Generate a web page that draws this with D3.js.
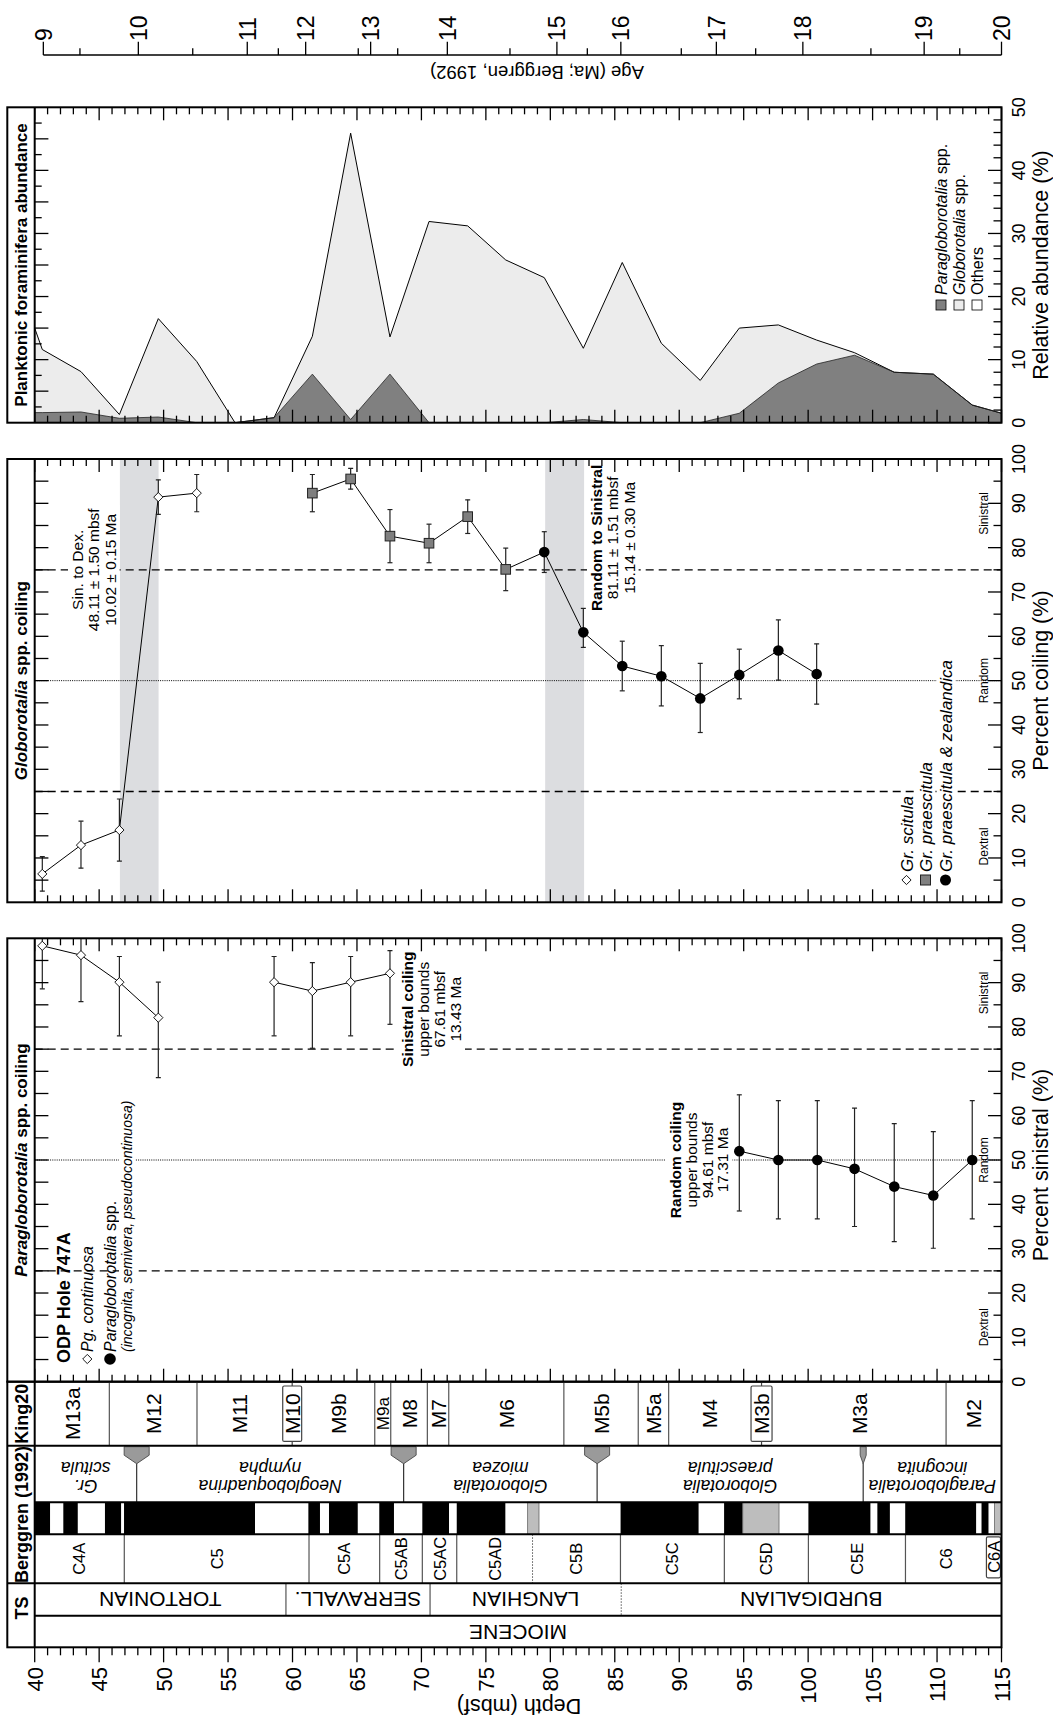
<!DOCTYPE html>
<html><head><meta charset="utf-8">
<script src="https://cdn.jsdelivr.net/npm/d3@7/dist/d3.min.js"></script>
<style>
body{margin:0;background:#fff}
text{font-family:"Liberation Sans",Arial,Helvetica,sans-serif;fill:#000}
</style></head>
<body><svg id="c" width="1053" height="1725"></svg>
<script>
// ================= DATA =================
const ageTicks = [9,9.5,10,10.5,11,11.5,12,12.5,13,13.5,14,14.5,15,15.5,16,16.5,17,17.5,18,18.5,19,19.5,20];
const ageTickDepths = [40.67,43.51,48.04,52.26,56.49,58.90,61.02,65.10,66.06,68.16,72.01,76.87,80.51,82.87,85.47,90.16,92.88,95.93,99.59,104.87,109.00,111.76,115.0];

// Planktonic foraminifera abundance (%)
const abDepth = [40.0,40.59,43.59,46.57,49.59,52.57,55.54,58.57,61.54,64.51,67.56,70.59,73.59,76.54,79.53,82.56,85.58,88.61,91.63,94.66,97.69,100.66,103.6,106.68,109.71,112.73,115.0];
const abPara  = [1.6,1.6,1.7,0.7,0.9,0,0,0.8,7.7,0.5,7.7,0,0,0,0,0.5,0,0,0,1.5,6.3,9.3,10.7,8.0,7.7,2.8,1.5];
const abGlob  = [13.4,10.0,6.4,0.6,15.6,9.7,0,0,6.0,45.4,5.9,31.9,31.2,25.8,23.0,11.3,25.4,12.6,6.7,13.5,9.2,3.8,0.4,0,0,0,0];

// Globorotalia coiling (% sinistral)
const scitulaDepth = [40.59,43.59,46.57,49.59,52.57];
const scitulaPct   = [6.4,12.9,16.3,91.4,92.3];
const scitulaLo    = [2.5,7.7,9.3,87.5,88.1];
const scitulaHi    = [10.3,18.3,23.3,95.3,96.5];
const praesDepth = [61.54,64.51,67.56,70.59,73.59,76.54];
const praesPct   = [92.3,95.5,82.6,81.0,87.0,75.1];
const praesLo    = [88.1,93.2,76.6,76.6,83.2,70.3];
const praesHi    = [96.5,97.9,88.6,85.3,90.8,79.9];
const zealDepth = [79.53,82.56,85.58,88.61,91.63,94.66,97.69,100.66];
const zealPct   = [79.0,60.9,53.3,51.0,46.0,51.3,56.8,51.5];
const zealLo    = [74.4,57.5,47.7,44.3,38.3,45.9,50.1,44.7];
const zealHi    = [83.6,66.3,58.9,57.9,53.9,57.1,63.7,58.3];
const bandMid  = [48.11,81.11];
const bandHalf = [1.50,1.51];

// Paragloborotalia coiling (% sinistral)
const pgContDepth = [40.59,43.59,46.57,49.59,58.57,61.54,64.51,67.56];
const pgContPct   = [98.3,96.2,90.1,82.1,90.1,88.1,90.1,92.1];
const pgContLo    = [88.6,85.7,78.0,68.6,78.0,75.2,78.0,80.6];
const pgContHi    = [100,100,95.9,90.1,95.9,94.5,95.9,97.2];
const pgContRun   = [1,1,1,1,2,2,2,2];
const pgSppDepth = [94.66,97.69,100.71,103.6,106.68,109.71,112.73];
const pgSppPct   = [52.0,50.0,50.0,48.0,44.0,42.0,50.0];
const pgSppLo    = [38.5,36.7,36.7,35.0,31.6,30.1,36.7];
const pgSppHi    = [64.7,63.4,63.4,61.7,58.2,56.4,63.4];

// Stratigraphy
const kingNames = ["M13a","M12","M11","M10","M9b","M9a","M8","M7","M6","M5b","M5a","M4","M3b","M3a","M2"];
const kingTops  = [40,45.79,52.59,59.24,60.71,66.38,67.62,70.46,72.12,81.05,86.82,89.18,95.57,97.20,110.70];
const kingBoxed = [0,0,0,1,0,0,0,0,0,0,0,0,1,0,0];
const zoneGenus   = ["Gr.","Neogloboquadrina","Globorotalia","Globorotalia","Paragloborotalia"];
const zoneSpecies = ["scitula","nympha","miozea","praescitula","incognita"];
const zoneTops    = [40,47.91,68.62,83.63,104.27];
const magNormalTop  = [40.0,42.22,45.45,46.93,61.23,62.83,66.73,70.07,72.74,85.45,93.48,100.02,105.37,107.53,113.45];
const magNormalBase = [41.19,43.34,46.70,57.09,62.13,65.06,67.87,72.14,76.51,91.50,94.93,104.83,106.34,113.03,113.99];
const magUncertTop  = [78.24,94.93,114.46];
const magUncertBase = [79.12,97.74,115.0];
const chronNames = ["C4A","C5","C5A","C5AB","C5AC","C5AD","C5B","C5C","C5D","C5E","C6","C6A"];
const chronTops  = [40,46.95,61.28,66.76,70.07,72.74,78.62,85.44,93.50,100.02,107.55,113.83];
const chronDotted= [0,0,0,0,0,0,1,0,0,0,0,0];
const chronBoxed = [0,0,0,0,0,0,0,0,0,0,0,1];
const stageNames = ["TORTONIAN","SERRAVALL.","LANGHIAN","BURDIGALIAN"];
const stageTops  = [40,59.49,70.67,85.50];
const stageDotted= [0,0,0,1];
const epochNames = ["MIOCENE"];
const epochTops  = [40];

// ================= LAYOUT =================
const svg = d3.select("#c");
const XL = 7.3, X0 = 34.7, X1 = 1001.5, DMAX = 115;
const x = d3.scaleLinear().domain([40,115]).range([X0,X1]);
const ageToDepth = d3.scaleLinear().domain(ageTicks).range(ageTickDepths);
const P3 = {top:107.3, bottom:422.7}, P2 = {top:459, bottom:902.3}, P1 = {top:938.3, bottom:1381.7};
const yAb = d3.scaleLinear().domain([0,50]).range([P3.bottom,P3.top]);
const yGl = d3.scaleLinear().domain([0,100]).range([P2.bottom,P2.top]);
const yPg = d3.scaleLinear().domain([0,100]).range([P1.bottom,P1.top]);

svg.append("rect").attr("width",1053).attr("height",1725).attr("fill","#fff");

function rtext(parent, tx, ty, angle, parts, o={}) {
  const t = parent.append("text")
    .attr("transform",`translate(${tx},${ty}) rotate(${angle})`)
    .attr("text-anchor", o.anchor || "middle")
    .style("font-size",(o.size||16)+"px");
  if (o.weight) t.style("font-weight",o.weight);
  if (o.italic) t.style("font-style","italic");
  if (typeof parts === "string") t.text(parts);
  else parts.forEach(p => t.append("tspan").text(p[0]).style("font-style", p[1] ? "italic" : "normal"));
  return t;
}
function block(parent, tx, ty, lines, o) {
  const g = parent.append("g").attr("transform",`translate(${tx},${ty}) rotate(-90)`);
  lines.forEach((l,i) => {
    const t = g.append("text").attr("y", i*o.lh).attr("text-anchor","middle").style("font-size",o.size+"px").text(l);
    if (i===0 && o.firstBold) t.style("font-weight","bold");
  });
  if (o.bg) {
    const b = g.node().getBBox();
    g.insert("rect","text").attr("x",b.x-3).attr("y",b.y-1).attr("width",b.width+6).attr("height",b.height+2).attr("fill","#fff");
  }
  return g;
}
function hline(g, y, x0, x1, w=2, col="#000") {
  return g.append("line").attr("x1",x0).attr("x2",x1).attr("y1",y).attr("y2",y).attr("stroke",col).attr("stroke-width",w);
}
function vline(g, xx, y0, y1, w=1, col="#000", dash=null) {
  const l = g.append("line").attr("x1",xx).attr("x2",xx).attr("y1",y0).attr("y2",y1).attr("stroke",col).attr("stroke-width",w);
  if (dash) l.attr("stroke-dasharray",dash);
  return l;
}

function frame(P, yS, opt) {
  const g = svg.append("g");
  d3.range(40,116,1).forEach(d => {
    const L = d % 5 === 0 ? 13 : 7;
    vline(g, x(d), P.top, P.top+L, 1.3);
    vline(g, x(d), P.bottom, P.bottom-L, 1.3);
  });
  d3.range(0, opt.max+0.001, opt.leftStep).forEach(v => {
    if (v===0 || v===opt.max) return;
    const L = opt.leftMajor ? (Math.abs(v/opt.leftMajor - Math.round(v/opt.leftMajor))<1e-6 ? 13.7 : 7) : 13.7;
    hline(g, yS(v), X0, X0+L, 1.3);
  });
  d3.range(0, opt.max+0.001, opt.rightStep).forEach(v => {
    const L = v % 10 === 0 ? 13.5 : 8;
    hline(g, yS(v), X1, X1-L, 1.3);
  });
  d3.range(0, opt.max+0.001, 10).forEach(v => {
    rtext(g, 1025, yS(v), -90, String(v), {size:18});
  });
  g.append("rect").attr("x",XL).attr("y",P.top).attr("width",X1-XL).attr("height",P.bottom-P.top)
    .attr("fill","none").attr("stroke","#000").attr("stroke-width",2);
  vline(g, X0, P.top, P.bottom, 2);
  rtext(g, 27, (P.top+P.bottom)/2, -90, opt.title, {size:17, weight:"bold"});
  rtext(g, 1048, opt.axisY, -90, opt.axis, {size:21.5});
  return g;
}

function clip(id, P) {
  svg.append("clipPath").attr("id",id).append("rect").attr("x",X0).attr("y",P.top).attr("width",X1-X0).attr("height",P.bottom-P.top);
}
clip("c3",P3); clip("c2",P2); clip("c1",P1);

const diamond = "M0,-4.6L4.6,0L0,4.6L-4.6,0Z";

function refLines(g, yS) {
  g.selectAll("line.ref").data([25,75]).enter().append("line").attr("class","ref")
   .attr("x1",X0).attr("x2",X1).attr("y1",d=>yS(d)).attr("y2",d=>yS(d))
   .attr("stroke","#000").attr("stroke-width",1.4).attr("stroke-dasharray","8,5");
  g.append("line").attr("x1",X0).attr("x2",X1).attr("y1",yS(50)).attr("y2",yS(50))
   .attr("stroke","#000").attr("stroke-width",1).attr("stroke-dasharray","1,1.2");
}
function errBars(g, depths, lo, hi, yS) {
  depths.forEach((d,i) => {
    const xx = x(d), a = yS(Math.min(hi[i],100)), b = yS(Math.max(lo[i],0));
    vline(g, xx, a, b, 1.2, "#222");
    hline(g, a, xx-2.5, xx+2.5, 1.2, "#222");
    hline(g, b, xx-2.5, xx+2.5, 1.2, "#222");
  });
}
function pathLine(g, depths, vals, yS) {
  g.append("path").attr("d", d3.line().x(d=>x(d[0])).y(d=>yS(d[1]))(depths.map((d,i)=>[d,vals[i]])))
   .attr("fill","none").attr("stroke","#000").attr("stroke-width",1);
}

// ================= TOP AGE AXIS =================
{
  const g = svg.append("g");
  const a0 = x(ageToDepth(9)), a1 = x(ageToDepth(20));
  hline(g, 55, a0, a1, 1.3);
  ageTicks.forEach(a => {
    const xx = x(ageToDepth(a));
    const major = Number.isInteger(a);
    vline(g, xx, 55, major ? 41.7 : 48.3, 1.3);
    if (major) rtext(g, xx+8.3, 41, -90, String(a), {size:23, anchor:"start"});
  });
  rtext(g, 537, 66, 180, "Age (Ma; Berggren, 1992)", {size:18.5});
}

// ================= PANEL 3: abundance =================
{
  const g = svg.append("g").attr("clip-path","url(#c3)");
  const rows = abDepth.map((d,i)=>({d, para:abPara[i], glob:abGlob[i]}));
  const stack = d3.stack().keys(["para","glob"])(rows);
  const area = d3.area().x(p=>x(p.data.d)).y0(p=>yAb(p[0])).y1(p=>yAb(p[1]));
  const top = d3.line().x(p=>x(p.data.d)).y(p=>yAb(p[1]));
  g.append("path").attr("d",area(stack[1])).attr("fill","#ececec");
  g.append("path").attr("d",area(stack[0])).attr("fill","#808080");
  g.append("path").attr("d",top(stack[1])).attr("fill","none").attr("stroke","#000").attr("stroke-width",1);
  g.append("path").attr("d",top(stack[0])).attr("fill","none").attr("stroke","#222").attr("stroke-width",0.8);
  frame(P3, yAb, {max:50, leftStep:2.5, leftMajor:5, rightStep:2, title:"Planktonic foraminifera abundance",
    axis:"Relative abundance (%)", axisY:(P3.top+P3.bottom)/2});
  const lg = svg.append("g");
  const items = [[["Paragloborotalia",1],[" spp.",0]],[["Globorotalia",1],[" spp.",0]],[["Others",0]]];
  const fills = ["#808080","#ececec","#fff"];
  items.forEach((it,i) => {
    const bx = 947 + i*18;
    lg.append("rect").attr("x",bx-11).attr("y",300).attr("width",10).attr("height",10)
      .attr("fill",fills[i]).attr("stroke","#000").attr("stroke-width",0.8);
    rtext(lg, bx, 295, -90, it, {size:16, anchor:"start"});
  });
}

// ================= PANEL 2: Globorotalia coiling =================
{
  const g = svg.append("g");
  const gc = g.append("g").attr("clip-path","url(#c2)");
  bandMid.forEach((m,i) => gc.append("rect").attr("x",x(m-bandHalf[i])).attr("width",x(m+bandHalf[i])-x(m-bandHalf[i]))
     .attr("y",P2.top).attr("height",P2.bottom-P2.top).attr("fill","#dcdde0"));
  refLines(gc, yGl);
  block(g, 83, yGl(75), ["Sin. to Dex.","48.11 ± 1.50 mbsf","10.02 ± 0.15 Ma"], {size:15.5, lh:16.3, bg:true});
  block(g, 602, yGl(82.2), ["Random to Sinistral","81.11 ± 1.51 mbsf","15.14 ± 0.30 Ma"], {size:15.5, lh:16.3, firstBold:true, bg:true});
  rtext(g, 987.5, yGl(87.7), -90, "Sinistral", {size:12});
  rtext(g, 987.5, yGl(50), -90, "Random", {size:12});
  rtext(g, 987.5, yGl(12.6), -90, "Dextral", {size:12});
  const leg = [[["Gr. scitula",1]],[["Gr. praescitula",1]],[["Gr. praescitula & zealandica",1]]];
  leg.forEach((it,i) => {
    const bx = [912.5,931.5,951.5][i];
    const t = rtext(g, bx, 872, -90, it, {size:17, anchor:"start"});
    const b = t.node().getBBox();
    g.insert("rect", () => t.node()).attr("transform",`translate(${bx},872) rotate(-90)`)
      .attr("x",b.x-2).attr("y",b.y).attr("width",b.width+4).attr("height",b.height).attr("fill","#fff");
  });
  g.append("path").attr("d",diamond).attr("transform","translate(906.5,880)").attr("fill","#fff").attr("stroke","#000").attr("stroke-width",0.9);
  g.append("rect").attr("x",925.5-5).attr("y",875).attr("width",10).attr("height",10).attr("fill","#808080").attr("stroke","#222");
  g.append("circle").attr("cx",945.5).attr("cy",880).attr("r",5.5).attr("fill","#000");
  const gd = g.append("g").attr("clip-path","url(#c2)");
  pathLine(gd, scitulaDepth, scitulaPct, yGl);
  pathLine(gd, praesDepth.concat(zealDepth), praesPct.concat(zealPct), yGl);
  errBars(gd, scitulaDepth, scitulaLo, scitulaHi, yGl);
  errBars(gd, praesDepth, praesLo, praesHi, yGl);
  errBars(gd, zealDepth, zealLo, zealHi, yGl);
  scitulaDepth.forEach((d,i)=>gd.append("path").attr("d",diamond).attr("transform",`translate(${x(d)},${yGl(scitulaPct[i])})`)
     .attr("fill","#fff").attr("stroke","#000").attr("stroke-width",0.9));
  praesDepth.forEach((d,i)=>gd.append("rect").attr("x",x(d)-4.8).attr("y",yGl(praesPct[i])-4.8).attr("width",9.6).attr("height",9.6)
     .attr("fill","#7f7f7f").attr("stroke","#222").attr("stroke-width",1));
  zealDepth.forEach((d,i)=>gd.append("circle").attr("cx",x(d)).attr("cy",yGl(zealPct[i])).attr("r",5.3).attr("fill","#000"));
  frame(P2, yGl, {max:100, leftStep:5, rightStep:5,
    title:[["Globorotalia",1],[" spp. coiling",0]], axis:"Percent coiling (%)", axisY:(P2.top+P2.bottom)/2});
}

// ================= PANEL 1: Paragloborotalia coiling =================
{
  const g = svg.append("g");
  const gc = g.append("g").attr("clip-path","url(#c1)");
  refLines(gc, yPg);
  block(g, 413, yPg(84), ["Sinistral coiling","upper bounds","67.61 mbsf","13.43 Ma"], {size:15.5, lh:16, firstBold:true, bg:true});
  block(g, 681, yPg(50), ["Random coiling","upper bounds","94.61 mbsf","17.31 Ma"], {size:15.5, lh:15.8, firstBold:true, bg:true});
  rtext(g, 987.5, yPg(87.7), -90, "Sinistral", {size:12});
  rtext(g, 987.5, yPg(50), -90, "Random", {size:12});
  rtext(g, 987.5, yPg(12.3), -90, "Dextral", {size:12});
  rtext(g, 70, 1363, -90, "ODP Hole 747A", {size:18, weight:"bold", anchor:"start"});
  g.append("path").attr("d",diamond).attr("transform","translate(87.3,1359)").attr("fill","#fff").attr("stroke","#000").attr("stroke-width",0.9);
  rtext(g, 93, 1352, -90, [["Pg. continuosa",1]], {size:16, anchor:"start"});
  g.append("circle").attr("cx",110).attr("cy",1359).attr("r",5.8).attr("fill","#000");
  rtext(g, 116, 1352, -90, [["Paragloborotalia",1],[" spp.",0]], {size:16, anchor:"start"});
  const st = rtext(g, 132, 1352, -90, [["(incognita, semivera, pseudocontinuosa)",1]], {size:14, anchor:"start"});
  const sb = st.node().getBBox();
  g.insert("rect", () => st.node()).attr("transform","translate(132,1352) rotate(-90)")
    .attr("x",sb.x-2).attr("y",sb.y).attr("width",sb.width+4).attr("height",sb.height).attr("fill","#fff");
  const gd = g.append("g").attr("clip-path","url(#c1)");
  d3.groups(pgContDepth.map((d,i)=>({d,v:pgContPct[i],r:pgContRun[i]})), p=>p.r).forEach(([,pts]) =>
    pathLine(gd, pts.map(p=>p.d), pts.map(p=>p.v), yPg));
  pathLine(gd, pgSppDepth, pgSppPct, yPg);
  errBars(gd, pgContDepth, pgContLo, pgContHi, yPg);
  errBars(gd, pgSppDepth, pgSppLo, pgSppHi, yPg);
  pgContDepth.forEach((d,i)=>gd.append("path").attr("d",diamond).attr("transform",`translate(${x(d)},${yPg(pgContPct[i])})`)
     .attr("fill","#fff").attr("stroke","#000").attr("stroke-width",0.9));
  pgSppDepth.forEach((d,i)=>gd.append("circle").attr("cx",x(d)).attr("cy",yPg(pgSppPct[i])).attr("r",5.3).attr("fill","#000"));
  frame(P1, yPg, {max:100, leftStep:5, rightStep:5,
    title:[["Paragloborotalia",1],[" spp. coiling",0]], axis:"Percent sinistral (%)", axisY:1165});
}

// ================= STRATIGRAPHY =================
{
  const g = svg.append("g");
  const R = {k:[1381.7,1445.7], b:[1445.7,1502.3], m:[1502.3,1534.3], c:[1534.3,1583.3], s:[1583.3,1615.7], e:[1615.7,1647.3]};
  const next = (arr,i) => i+1 < arr.length ? arr[i+1] : DMAX;
  const mid = r => (r[0]+r[1])/2;
  magNormalTop.forEach((t,i)=>g.append("rect").attr("x",x(t)).attr("width",x(magNormalBase[i])-x(t)).attr("y",R.m[0]).attr("height",R.m[1]-R.m[0]).attr("fill","#000"));
  magUncertTop.forEach((t,i)=>g.append("rect").attr("x",x(t)).attr("width",x(magUncertBase[i])-x(t)).attr("y",R.m[0]).attr("height",R.m[1]-R.m[0]).attr("fill","#bdbdbd").attr("stroke","#666").attr("stroke-width",0.8));
  kingNames.forEach((n,i) => {
    const t = kingTops[i], b = next(kingTops,i);
    if (kingBoxed[i]) {
      const c = (x(t)+x(b))/2;
      vline(g, c, R.k[0], R.k[1], 1.2, "#444");
      g.append("rect").attr("x",x(t)).attr("y",R.k[0]+4.3).attr("width",x(b)-x(t)).attr("height",R.k[1]-R.k[0]-8.6)
        .attr("rx",1.5).attr("fill","#fff").attr("stroke","#444").attr("stroke-width",1.2);
      rtext(g, c+7.5, mid(R.k), -90, n, {size:21});
    } else {
      if (i>0 && !kingBoxed[i-1]) vline(g, x(t), R.k[0], R.k[1], 1.2, "#555");
      rtext(g, (x(t)+x(b))/2 + (n==="M9a"?6:7.5), mid(R.k), -90, n, {size: n==="M9a"?17:21});
    }
  });
  zoneGenus.forEach((gn,i) => {
    const t = zoneTops[i], b = next(zoneTops,i), c = (x(t)+x(b))/2;
    rtext(g, c, 1480, 180, [[gn,1]], {size:17.5});
    rtext(g, c, 1461.5, 180, [[zoneSpecies[i],1]], {size:17.5});
    if (i>0) {
      const cx = x(t), w = i===zoneTops.length-1 ? 3 : 12.5;
      vline(g, cx, 1463, R.b[1], 1.2, "#333");
      g.append("path").attr("d", d3.line()([[cx-w,R.b[0]+1],[cx+w,R.b[0]+1],[cx+w,R.b[0]+9.5],[cx,R.b[0]+18],[cx-w,R.b[0]+9.5]]) + "Z")
        .attr("fill","#9a9a9a").attr("stroke","#555").attr("stroke-width",1);
    }
  });
  chronNames.forEach((n,i) => {
    const t = chronTops[i], b = next(chronTops,i);
    if (chronBoxed[i]) {
      g.append("rect").attr("x",x(t)).attr("y",R.c[0]+2.5).attr("width",x(b)-x(t)-1).attr("height",R.c[1]-R.c[0]-8)
        .attr("rx",1.5).attr("fill","#fff").attr("stroke","#444").attr("stroke-width",1.2);
    } else if (i>0) {
      vline(g, x(t), R.c[0], R.c[1], chronDotted[i]?1:1.2, "#555", chronDotted[i]?"1.5,1.5":null);
    }
    rtext(g, (x(t)+x(b))/2 + 6, mid(R.c) + (chronBoxed[i]?-2:0), -90, n, {size:16.5});
  });
  stageNames.forEach((n,i) => {
    const t = stageTops[i], b = next(stageTops,i);
    if (i>0) vline(g, x(t), R.s[0], R.s[1], stageDotted[i]?1:1.2, "#555", stageDotted[i]?"1.5,1.5":null);
    rtext(g, (x(t)+x(b))/2, 1591.5, 180, n, {size:21});
  });
  epochNames.forEach((n,i) => {
    const t = epochTops[i], b = next(epochTops,i);
    rtext(g, (x(t)+x(b))/2, 1625, 180, n, {size:21});
  });
  g.append("rect").attr("x",XL).attr("y",R.k[0]).attr("width",X1-XL).attr("height",R.e[1]-R.k[0])
    .attr("fill","none").attr("stroke","#000").attr("stroke-width",2);
  vline(g, X0, R.k[0], R.e[1], 2);
  hline(g, R.k[1], XL, X1, 2);
  hline(g, R.b[1], X0, X1, 2);
  hline(g, R.m[1], X0, X1, 2);
  hline(g, R.c[1], XL, X1, 2);
  hline(g, R.s[1], X0, X1, 2);
  rtext(g, 27.5, mid(R.k), -90, "King20", {size:18, weight:"bold"});
  rtext(g, 27.5, (R.b[0]+R.c[1])/2, -90, "Berggren (1992)", {size:18, weight:"bold"});
  rtext(g, 27.5, 1608, -90, "TS", {size:18, weight:"bold"});
  d3.range(40,116,1).forEach(d => vline(g, x(d), R.e[1], R.e[1] + (d%5===0?15:8), 1.3));
  d3.range(40,116,5).forEach(d => rtext(g, x(d)+8, 1667, -90, String(d), {size:22, anchor:"end"}));
  rtext(g, 519, 1699, 180, "Depth (mbsf)", {size:21.5});
}
</script></body></html>
